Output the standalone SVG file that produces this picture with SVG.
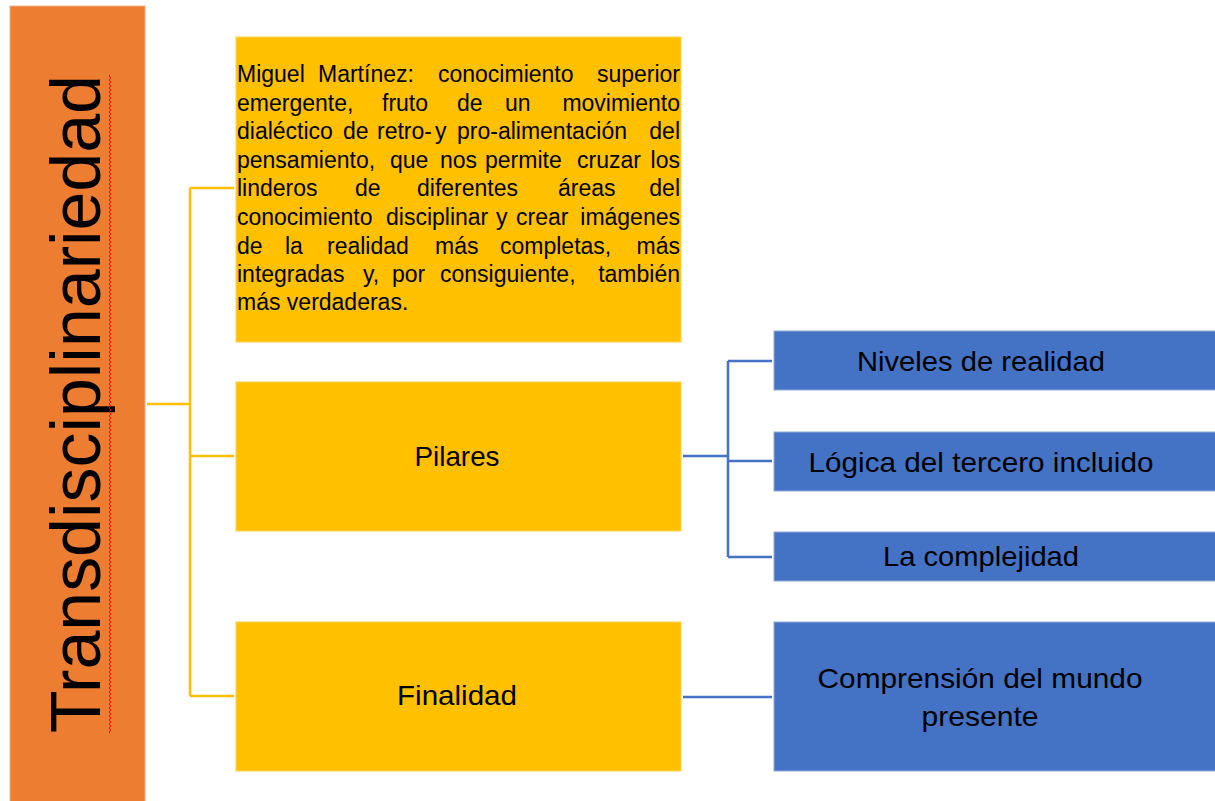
<svg xmlns="http://www.w3.org/2000/svg" width="1215" height="801" viewBox="0 0 1215 801">
<style>
.ybox{fill:#FFC000;stroke:#FFD24D;stroke-width:1}
.bbox{fill:#4472C4;stroke:#8FAADC;stroke-width:1}
.lbl{font-family:"Liberation Sans",Arial,sans-serif;font-size:28px;fill:#000;text-anchor:middle}
.para{font-family:"Liberation Sans",Arial,sans-serif;font-size:23px;fill:#000}
.para .e{text-anchor:end}
.yl{fill:none;stroke:#FFC000;stroke-width:2.5}
.bl{fill:none;stroke:#4472C4;stroke-width:2.5}
</style>
<defs>
<pattern id="wave" x="108" y="0" width="4" height="4" patternUnits="userSpaceOnUse">
<polyline points="1,0 3,2 1,4" fill="none" stroke="#E00000" stroke-width="0.9"/>
</pattern>
</defs>
<rect width="1215" height="801" fill="#fff"/>
<g id="connectors">
<path class="yl" d="M147,404 H190 M190,188 V696 M190,188 H234 M190,456 H234 M190,696 H234"/>
<path class="bl" d="M683,456 H728 M728,361 V557 M728,361 H772 M728,461 H772 M728,557 H772 M683,697 H772"/>
</g>
<g id="root">
<rect x="10" y="6" width="135" height="800" fill="#ED7D31" stroke="#F4B183" stroke-width="1"/>
<text transform="translate(100,404) rotate(-90)" font-family="'Liberation Sans',Arial,sans-serif" font-size="70" text-anchor="middle" textLength="658" lengthAdjust="spacingAndGlyphs" fill="#000">Transdisciplinariedad</text>
<rect x="108" y="75" width="4" height="658" fill="url(#wave)"/>
</g>
<g id="definition">
<rect class="ybox" x="236" y="37" width="445" height="305"/>
<text class="para"><tspan x="237" y="82">Miguel</tspan><tspan x="318" y="82">Martínez:</tspan><tspan x="438" y="82">conocimiento</tspan><tspan class="e" x="680" y="82">superior</tspan><tspan x="237" y="111">emergente,</tspan><tspan x="382" y="111">fruto</tspan><tspan x="457" y="111">de</tspan><tspan x="505" y="111">un</tspan><tspan class="e" x="680" y="111">movimiento</tspan><tspan x="237" y="139">dialéctico</tspan><tspan x="343" y="139">de</tspan><tspan x="377" y="139">retro-</tspan><tspan x="435" y="139">y</tspan><tspan x="457" y="139">pro-alimentación</tspan><tspan class="e" x="680" y="139">del</tspan><tspan x="237" y="168">pensamiento,</tspan><tspan x="390" y="168">que</tspan><tspan x="440" y="168">nos</tspan><tspan x="485" y="168">permite</tspan><tspan x="577" y="168">cruzar</tspan><tspan class="e" x="680" y="168">los</tspan><tspan x="237" y="196">linderos</tspan><tspan x="355" y="196">de</tspan><tspan x="417" y="196">diferentes</tspan><tspan x="558" y="196">áreas</tspan><tspan class="e" x="680" y="196">del</tspan><tspan x="237" y="225">conocimiento</tspan><tspan x="386" y="225">disciplinar</tspan><tspan x="496" y="225">y</tspan><tspan x="516" y="225">crear</tspan><tspan class="e" x="680" y="225">imágenes</tspan><tspan x="237" y="254">de</tspan><tspan x="285" y="254">la</tspan><tspan x="327" y="254">realidad</tspan><tspan x="435" y="254">más</tspan><tspan x="500" y="254">completas,</tspan><tspan class="e" x="680" y="254">más</tspan><tspan x="237" y="282">integradas</tspan><tspan x="363" y="282">y,</tspan><tspan x="392" y="282">por</tspan><tspan x="440" y="282">consiguiente,</tspan><tspan class="e" x="680" y="282">también</tspan><tspan x="237" y="310">más verdaderas.</tspan></text>
</g>
<g id="pilares">
<rect class="ybox" x="236" y="382" width="445" height="149"/>
<text class="lbl" x="457" y="466" textLength="85" lengthAdjust="spacingAndGlyphs">Pilares</text>
</g>
<g id="finalidad">
<rect class="ybox" x="236" y="622" width="445" height="149"/>
<text class="lbl" x="457" y="705" textLength="120" lengthAdjust="spacingAndGlyphs">Finalidad</text>
</g>
<g id="niveles">
<rect class="bbox" x="774" y="331" width="445" height="59"/>
<text class="lbl" x="981" y="371" textLength="248" lengthAdjust="spacingAndGlyphs">Niveles de realidad</text>
</g>
<g id="logica">
<rect class="bbox" x="774" y="432" width="445" height="59"/>
<text class="lbl" x="981" y="472" textLength="345" lengthAdjust="spacingAndGlyphs">Lógica del tercero incluido</text>
</g>
<g id="complejidad">
<rect class="bbox" x="774" y="532" width="445" height="49"/>
<text class="lbl" x="981" y="566" textLength="196" lengthAdjust="spacingAndGlyphs">La complejidad</text>
</g>
<g id="comprension">
<rect class="bbox" x="774" y="622" width="445" height="149"/>
<text class="lbl" x="980" y="688" textLength="325" lengthAdjust="spacingAndGlyphs">Comprensión del mundo</text>
<text class="lbl" x="980" y="726" textLength="117" lengthAdjust="spacingAndGlyphs">presente</text>
</g>
</svg>
